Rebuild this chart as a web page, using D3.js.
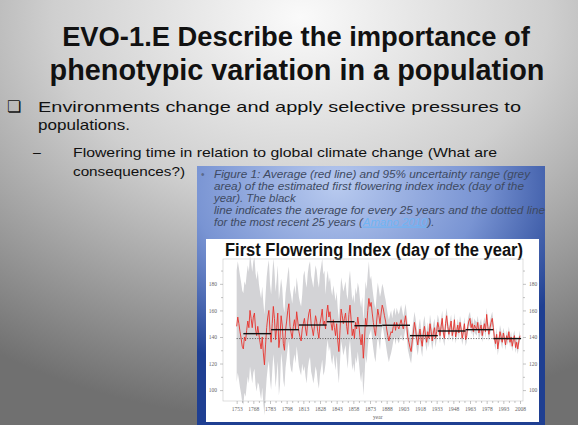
<!DOCTYPE html>
<html>
<head>
<meta charset="utf-8">
<script src="https://cdn.jsdelivr.net/npm/d3@7"></script>
<style>
  body { margin: 0; padding: 0; overflow: hidden; }
  svg text { font-family: "Liberation Sans", Arial, sans-serif; }
</style>
</head>
<body>
<div id="slide"></div>
<script>
// annual first flowering index, 1753-2008
var firstYear = 1753;
var flowering = [
  148, 155, 150, 144, 139, 133, 131, 140, 137, 145,
  152, 147, 160, 154, 147, 155, 158, 146, 141, 148,
  142, 136, 131, 140, 128, 119, 134, 147, 155, 160,
  144, 136, 150, 163, 154, 138, 147, 158, 132, 140,
  156, 149, 135, 130, 145, 152, 160, 165, 148, 143,
  139, 148, 153, 146, 159, 152, 144, 140, 137, 146,
  150, 154, 146, 141, 152, 158, 161, 150, 146, 141,
  148, 156, 152, 144, 139, 150, 155, 161, 149, 152,
  146, 158, 164, 155, 159, 150, 145, 153, 147, 141,
  150, 137, 129, 145, 161, 156, 150, 154, 158, 148,
  142, 157, 164, 153, 141, 146, 139, 151, 146, 155,
  149, 140, 134, 142, 124, 137, 154, 148, 160, 169,
  163, 166, 158, 151, 145, 141, 152, 161, 156, 150,
  158, 164, 161, 156, 152, 146, 141, 137, 141, 144,
  143, 148, 151, 145, 151, 148, 146, 150, 153, 149,
  146, 151, 156, 149, 140, 136, 132, 129, 137, 143,
  151, 146, 139, 134, 141, 146, 138, 133, 143, 148,
  141, 136, 144, 139, 150, 144, 137, 143, 147, 139,
  144, 151, 147, 141, 148, 154, 143, 139, 150, 156,
  148, 142, 147, 152, 141, 145, 153, 140, 144, 149,
  143, 151, 146, 139, 144, 150, 138, 141, 148, 152,
  154, 147, 150, 144, 149, 147, 146, 151, 143, 146,
  149, 141, 146, 150, 144, 157, 148, 142, 147, 151,
  154, 147, 139, 135, 142, 131, 137, 144, 140, 136,
  143, 139, 134, 141, 138, 144, 136, 140, 133, 138,
  141, 132, 136, 131, 137, 141
];
// 95% range half-width for each decade starting 1753, 1763, ...
var rangeHalfWidth = [42, 42, 38, 36, 28, 26, 36, 38, 26, 24, 26, 28, 20, 16, 11, 9, 8, 7, 6, 5, 5, 5, 5, 5, 4, 4];
// 25-year averages
var periodStart = [1759, 1784, 1809, 1834, 1859, 1884, 1909, 1934, 1959, 1984];
var periodMean = [142.5, 145.5, 149, 151.5, 148.5, 148.8, 141, 144.5, 145.5, 138.8];
var recentMean = 138.8;
var yearTicks = d3.range(1753, 2009, 15);
var dayTicks = [100, 120, 140, 160, 180];

var titleLines = ["EVO-1.E Describe the importance of", "phenotypic variation in a population"];
var captionLines = [
  "Figure 1:  Average (red line) and 95% uncertainty range (grey",
  "area) of the estimated first flowering  index index (day of the",
  "year). The black",
  "line indicates the average for every 25 years and the dotted line",
  "for the most recent 25 years ("
];

var series = flowering.map(function (v, i) {
  return { year: firstYear + i, value: v, hw: rangeHalfWidth[Math.floor(i / 10)] };
});

var W = 578, H = 425;
var svg = d3.select("#slide").append("svg").attr("width", W).attr("height", H);
var defs = svg.append("defs");

var bg = defs.append("radialGradient").attr("id", "bg")
  .attr("cx", "52%").attr("cy", "4%").attr("r", "95%");
bg.append("stop").attr("offset", "0").attr("stop-color", "#fafafa");
bg.append("stop").attr("offset", "0.45").attr("stop-color", "#cfcfcf");
bg.append("stop").attr("offset", "1").attr("stop-color", "#707070");

var blue = defs.append("radialGradient").attr("id", "blue")
  .attr("cx", "40%").attr("cy", "8%").attr("r", "75%");
blue.append("stop").attr("offset", "0").attr("stop-color", "#b8caef");
blue.append("stop").attr("offset", "0.55").attr("stop-color", "#7994d3");
blue.append("stop").attr("offset", "1").attr("stop-color", "#1f3f92");

svg.append("rect").attr("width", W).attr("height", H).attr("fill", "url(#bg)");

// slide title
function fitWidth(sel, w) {
  var len = sel.node().getComputedTextLength();
  var fs = parseFloat(sel.attr("font-size"));
  sel.attr("font-size", fs * w / len);
}
var t1 = svg.append("text").attr("x", 296).attr("y", 46).attr("text-anchor", "middle")
  .attr("font-size", 26).attr("font-weight", "bold").attr("fill", "#111").text(titleLines[0]);
fitWidth(t1, 468);
var t2 = svg.append("text").attr("x", 297).attr("y", 80).attr("text-anchor", "middle")
  .attr("font-size", 26).attr("font-weight", "bold").attr("fill", "#111").text(titleLines[1]);
fitWidth(t2, 495);

// bullets
svg.append("text").attr("x", 7).attr("y", 112).attr("font-size", 16)
  .style("font-family", "DejaVu Sans").attr("fill", "#111").text("\u274F");
svg.append("text").attr("x", 38).attr("y", 112).attr("font-size", 15).attr("fill", "#111")
  .attr("textLength", 483).attr("lengthAdjust", "spacingAndGlyphs")
  .text("Environments change and apply selective pressures to");
svg.append("text").attr("x", 38).attr("y", 130).attr("font-size", 15).attr("fill", "#111")
  .attr("textLength", 92).attr("lengthAdjust", "spacingAndGlyphs")
  .text("populations.");
svg.append("text").attr("x", 33).attr("y", 157).attr("font-size", 14).attr("fill", "#111").text("\u2013");
svg.append("text").attr("x", 73).attr("y", 157).attr("font-size", 13.5).attr("fill", "#111")
  .attr("textLength", 424).attr("lengthAdjust", "spacingAndGlyphs")
  .text("Flowering time in relation to global climate change (What are");
svg.append("text").attr("x", 73).attr("y", 176).attr("font-size", 13.5).attr("fill", "#111")
  .attr("textLength", 112).attr("lengthAdjust", "spacingAndGlyphs")
  .text("consequences?)");

// figure box
svg.append("rect").attr("x", 197).attr("y", 166).attr("width", 348).attr("height", 259).attr("fill", "url(#blue)");
svg.append("text").attr("x", 201).attr("y", 178).attr("font-size", 10).attr("fill", "#5a6a8a").text("\u2022");
var cap = svg.append("g").attr("font-size", 11.4).attr("font-style", "italic").attr("fill", "#3e4a62");
var capWidth = [316, 310, 0, 331, 0];
captionLines.forEach(function (l, i) {
  var t = cap.append("text").attr("x", 214).attr("y", 178 + i * 11.9).text(l);
  if (capWidth[i]) t.attr("textLength", capWidth[i]).attr("lengthAdjust", "spacingAndGlyphs");
  if (i == captionLines.length - 1) {
    t.append("tspan").attr("fill", "#6fb5f5").attr("text-decoration", "underline").text("Amano 2010");
    t.append("tspan").text(").");
  }
});

// chart panel
var panel = { x: 206, y: 239, w: 333, h: 183 };
svg.append("rect").attr("x", panel.x).attr("y", panel.y).attr("width", panel.w).attr("height", panel.h).attr("fill", "#fff");
svg.append("text").attr("x", 374).attr("y", 256).attr("text-anchor", "middle")
  .attr("font-size", 17.5).attr("font-weight", "bold").attr("fill", "#111")
  .attr("textLength", 298).attr("lengthAdjust", "spacingAndGlyphs")
  .text("First Flowering Index (day of the year)");

var plot = { left: 223, right: 523, top: 259, bottom: 401 };
var x = d3.scaleLinear().domain([1740.7, 2010.7]).range([plot.left, plot.right]);
var y = d3.scaleLinear().domain([91.8, 198.7]).range([plot.bottom, plot.top]);

var g = svg.append("g");
g.append("rect").attr("x", plot.left).attr("y", plot.top)
  .attr("width", plot.right - plot.left).attr("height", plot.bottom - plot.top)
  .attr("fill", "none").attr("stroke", "#c8c8c8").attr("stroke-width", 0.6);

g.append("path").datum(series)
  .attr("d", d3.area().x(d => x(d.year)).y0(d => y(d.value - d.hw)).y1(d => y(d.value + d.hw)))
  .attr("fill", "#d3d3d6");

g.append("line").attr("x1", x(1753)).attr("x2", x(2008)).attr("y1", y(recentMean)).attr("y2", y(recentMean))
  .attr("stroke", "#444").attr("stroke-width", 0.9).attr("stroke-dasharray", "1,1.6");

g.append("path").datum(series)
  .attr("d", d3.line().x(d => x(d.year)).y(d => y(d.value)))
  .attr("fill", "none").attr("stroke", "#e8322c").attr("stroke-width", 0.9);

g.selectAll(".mean").data(periodStart).enter().append("line")
  .attr("x1", d => x(d)).attr("x2", d => x(d + 25))
  .attr("y1", (d, i) => y(periodMean[i])).attr("y2", (d, i) => y(periodMean[i]))
  .attr("stroke", "#111").attr("stroke-width", 1.4);

// axes
function styleAxis(a) {
  a.select(".domain").remove();
  a.selectAll("line").attr("stroke", "#888").attr("stroke-width", 0.5);
  a.selectAll("text").attr("fill", "#666").style("font-family", "Liberation Serif").attr("font-size", 5.5);
}
svg.append("g").attr("transform", "translate(" + plot.left + ",0)")
  .call(d3.axisLeft(y).tickValues(dayTicks).tickSize(3).tickPadding(3)).call(styleAxis);
svg.append("g").attr("transform", "translate(" + plot.left + ",0)")
  .call(d3.axisLeft(y).tickValues(d3.range(110, 200, 20)).tickSize(2).tickFormat("")).call(styleAxis);
svg.append("g").attr("transform", "translate(" + plot.right + ",0)")
  .call(d3.axisRight(y).tickValues(dayTicks).tickSize(3).tickPadding(3)).call(styleAxis);
svg.append("g").attr("transform", "translate(" + plot.right + ",0)")
  .call(d3.axisRight(y).tickValues(d3.range(110, 200, 20)).tickSize(2).tickFormat("")).call(styleAxis);
svg.append("g").attr("transform", "translate(0," + plot.bottom + ")")
  .call(d3.axisBottom(x).tickValues(yearTicks).tickSize(3).tickPadding(3).tickFormat(d3.format("d"))).call(styleAxis);
svg.append("g").attr("transform", "translate(0," + plot.bottom + ")")
  .call(d3.axisBottom(x).tickValues(d3.range(1758, 2008, 5).filter(d => (d - 1753) % 15 != 0)).tickSize(2).tickFormat("")).call(styleAxis);
svg.append("text").attr("x", x(1880)).attr("y", 419).attr("text-anchor", "middle")
  .style("font-family", "Liberation Serif").attr("font-size", 5.5).attr("fill", "#666").text("year");
</script>
</body>
</html>
